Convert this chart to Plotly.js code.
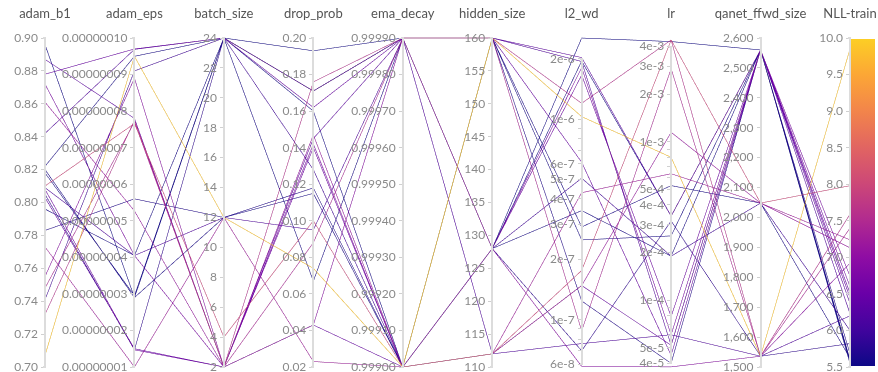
<!DOCTYPE html>
<html>
<head>
<meta charset="utf-8">
<script src="https://cdn.plot.ly/plotly-3.0.1.min.js"></script>
<style>
html,body{margin:0;padding:0;background:#fff;}
#chart{width:878px;height:372px;}
.parcoords .axis .domain{stroke:#dcdcdc !important; stroke-width:2px !important; stroke-opacity:1 !important;}
.parcoords .axis .tick line{stroke:#d0d0d0 !important; stroke-opacity:1 !important;}
</style>
</head>
<body>
<div id="chart"></div>
<script>
// ---- data: one entry per run ----
const adam_b1 = [0.896,0.887,0.878,0.872,0.861,0.842,0.822,0.820,0.810,0.808,0.805,0.796,0.783,0.773,0.755,0.748,0.741,0.732,0.707,0.809,0.818,0.803];
const adam_eps = [2.9e-8,7.8e-8,9.7e-8,4.05e-8,5.27e-8,9.69e-8,9.5e-8,2.9e-8,7.66e-8,1.47e-8,1.47e-8,4.05e-8,5.6e-8,1.0e-8,8.9e-8,7.7e-8,9.1e-8,7.75e-8,9.5e-8,4.05e-8,2.95e-8,1.5e-8];
const batch_size = [24,2,24,2,2,24,24,12,4,2,24,24,12,12,2,2,24,2,12,12,24,2];
const drop_prob = [0.193,0.145,0.162,0.142,0.147,0.171,0.171,0.115,0.100,0.140,0.171,0.067,0.118,0.023,0.043,0.088,0.128,0.176,0.074,0.095,0.160,0.043];
const ema_decay = [0.9999,0.9999,0.9999,0.999,0.999,0.9999,0.9999,0.999,0.999,0.999,0.9999,0.9999,0.999,0.999,0.9999,0.9999,0.999,0.9999,0.999,0.9999,0.999,0.999];
const hidden_size = [128,160,160,128,112,160,128,160,112,128,128,160,160,112,128,160,128,160,160,112,128,112];
const l2_wd = [2.54e-6,2.03e-6,6.1e-7,1.81e-6,1.48e-7,1.94e-6,3.5e-7,2.9e-7,1.76e-7,1.66e-6,7.0e-8,2.5e-7,1.24e-7,4.3e-7,5.85e-8,8.8e-8,5.08e-7,1.2e-6,1.03e-6,7.6e-8,1.95e-6,1.48e-7];
const lr = [4.3e-3,3.4e-4,4.5e-5,6.06e-5,1.15e-3,5.2e-5,1.9e-4,5.3e-4,4.4e-3,7.9e-5,3.17e-4,2.55e-4,4.0e-5,6.3e-4,3.8e-5,2.9e-3,1.9e-4,4.4e-3,8.0e-4,6.06e-5,3.4e-4,5.2e-5];
const qanet_ffwd_size = [2560,2560,2560,2560,2048,2560,2560,2048,2048,2560,1536,2560,2560,2048,1536,1536,2048,1536,1536,1536,2560,2560];
const nll_train = [5.55,6.37,6.51,6.74,7.13,6.23,5.59,5.62,7.98,6.60,5.82,5.60,5.68,7.24,6.92,7.40,6.00,7.59,9.85,6.20,5.58,6.45];

// ---- axis ticks ----
const b1Ticks = [0.70,0.72,0.74,0.76,0.78,0.80,0.82,0.84,0.86,0.88,0.90];
const epsTicks = [1e-8,2e-8,3e-8,4e-8,5e-8,6e-8,7e-8,8e-8,9e-8,10e-8];
const bsTicks = [2,4,6,8,10,12,14,16,18,20,22,24];
const dpTicks = [0.02,0.04,0.06,0.08,0.10,0.12,0.14,0.16,0.18,0.20];
const emaTicks = [0.9990,0.9991,0.9992,0.9993,0.9994,0.9995,0.9996,0.9997,0.9998,0.9999];
const hsTicks = [110,115,120,125,130,135,140,145,150,155,160];
const l2Ticks = [6e-8,7e-8,8e-8,9e-8,1e-7,2e-7,3e-7,4e-7,5e-7,6e-7,7e-7,8e-7,9e-7,1e-6,2e-6];
const l2Labels = ['6e-8','','','','1e-7','2e-7','3e-7','4e-7','5e-7','6e-7','','','','1e-6','2e-6'];
const lrTicks = [4e-5,5e-5,6e-5,7e-5,8e-5,9e-5,1e-4,2e-4,3e-4,4e-4,5e-4,6e-4,7e-4,8e-4,9e-4,1e-3,2e-3,3e-3,4e-3];
const lrLabels = ['4e-5','5e-5','','','','','1e-4','2e-4','3e-4','4e-4','5e-4','','','','','1e-3','2e-3','3e-3','4e-3'];
const ffTicks = [1500,1600,1700,1800,1900,2000,2100,2200,2300,2400,2500,2600];
const nllTicks = [5.5,6.0,6.5,7.0,7.5,8.0,8.5,9.0,9.5,10.0];

const log10 = v => Math.log10(v);
// unlabeled minor ticks need distinct (blank) texts
const uniqueBlank = arr => { let k = 0; return arr.map(t => t === '' ? ' '.repeat(++k) : t); };

const plasma = [[0,'#0d0887'],[1/9,'#41049d'],[2/9,'#6a00a8'],[3/9,'#8f0da4'],[4/9,'#b12a90'],
  [5/9,'#cc4778'],[6/9,'#e16462'],[7/9,'#f2844b'],[8/9,'#fca636'],[1,'#fcce25']];

const tfont = {family:'Lato, sans-serif', size:12, color:'#8a8a8a', shadow:'none'};

const dims = [
  {label:'adam_b1', values:adam_b1, range:[0.70,0.90], tickvals:b1Ticks, ticktext:b1Ticks.map(v=>v.toFixed(2))},
  {label:'adam_eps', values:adam_eps, range:[1e-8,1e-7], tickvals:epsTicks, ticktext:epsTicks.map(v=>v.toFixed(8))},
  {label:'batch_size', values:batch_size, range:[2,24], tickvals:bsTicks, ticktext:bsTicks.map(String)},
  {label:'drop_prob', values:drop_prob, range:[0.02,0.20], tickvals:dpTicks, ticktext:dpTicks.map(v=>v.toFixed(2))},
  {label:'ema_decay', values:ema_decay, range:[0.999,0.9999], tickvals:emaTicks, ticktext:emaTicks.map(v=>v.toFixed(5))},
  {label:'hidden_size', values:hidden_size, range:[110,160], tickvals:hsTicks, ticktext:hsTicks.map(String)},
  {label:'l2_wd', values:l2_wd.map(log10), range:[-7.236,-5.595], tickvals:l2Ticks.map(log10), ticktext:uniqueBlank(l2Labels)},
  {label:'lr', values:lr.map(log10), range:[-4.421,-2.344], tickvals:lrTicks.map(log10), ticktext:uniqueBlank(lrLabels)},
  {label:'qanet_ffwd_size', values:qanet_ffwd_size, range:[1500,2600], tickvals:ffTicks, ticktext:ffTicks.map(v=>v.toLocaleString('en-US'))},
  {label:'NLL-train', values:nll_train, range:[5.5,10], tickvals:nllTicks, ticktext:nllTicks.map(v=>v.toFixed(1))}
];

const trace = {
  type:'parcoords',
  dimensions:dims,
  line:{
    color:nll_train, colorscale:plasma, cmin:5.5, cmax:10,
    showscale:true,
    colorbar:{x:1, xanchor:'left', xpad:0, y:0.5, yanchor:'middle', ypad:0, len:0.982, lenmode:'fraction',
      thickness:25, outlinewidth:0, showticklabels:false, ticks:''}
  },
  labelfont:{family:'Lato, sans-serif', size:13, color:'#555', shadow:'none'},
  tickfont:tfont,
  rangefont:{family:'Lato, sans-serif', size:1, color:'rgba(0,0,0,0)', shadow:'none'}
};

const layout = {
  width:878, height:372,
  margin:{l:45, r:23, t:36, b:3},
  paper_bgcolor:'#fff', plot_bgcolor:'#fff',
  font:{family:'Lato, sans-serif', color:'#888'}
};
Plotly.newPlot('chart',[trace],layout,{displayModeBar:false}).then(function(){
  document.querySelectorAll('.parcoords .axis-title').forEach(function(t){
    t.setAttribute('transform','translate(0,-18)');
  });
});
</script>
</body>
</html>
